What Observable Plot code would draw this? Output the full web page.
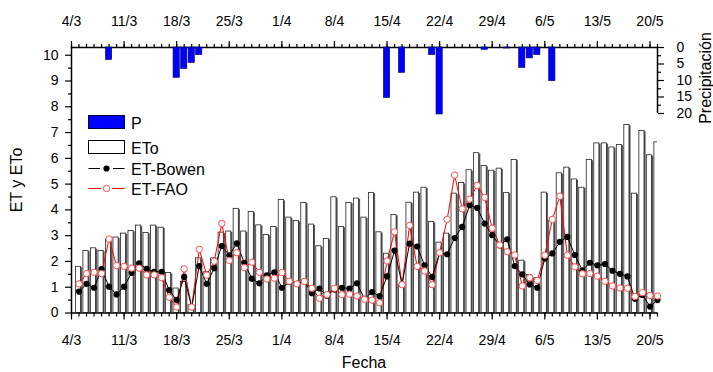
<!DOCTYPE html>
<html><head><meta charset="utf-8">
<script src="https://cdn.jsdelivr.net/npm/d3@7"></script>
<script src="https://cdn.jsdelivr.net/npm/@observablehq/plot@0.6"></script>
<style>
body{margin:0;background:#fff;}
#wrap{position:relative;width:713px;height:372px;background:#fff;font-family:"Liberation Sans",Arial,sans-serif;}
#wrap svg{position:absolute;left:0;top:0;}
</style></head><body><div id="wrap"></div>
<script>
// daily values from 5/3 to 21/5
const eto = [1.79,2.41,2.51,2.41,2.85,2.93,3.08,3.18,3.39,3.10,3.39,3.31,1.55,0.95,1.20,0.30,2.12,1.58,2.12,3.12,
3.16,4.04,3.16,3.92,3.40,3.03,3.34,4.38,3.70,3.57,4.27,3.43,2.59,2.87,4.49,3.34,4.27,4.44,3.70,4.66,
3.13,2.30,3.80,1.10,4.28,4.67,4.86,3.53,2.73,3.08,4.63,5.04,5.54,6.20,5.70,5.52,5.60,4.66,5.94,2.03,
1.47,1.35,4.67,3.58,5.42,5.64,5.18,4.86,5.94,6.58,6.58,6.42,6.52,7.29,4.63,7.06,6.12,6.62];
const bowen = [0.83,1.13,0.98,1.70,1.02,0.72,1.02,1.56,1.93,1.71,1.60,1.60,0.89,0.50,1.40,0.23,1.82,1.13,1.74,2.60,
2.24,2.70,1.95,1.33,1.15,1.46,1.58,0.98,1.20,1.13,1.23,0.77,0.95,0.67,0.91,0.98,0.95,1.15,0.55,0.81,
0.66,1.42,2.42,1.12,2.69,2.58,1.85,1.40,2.33,2.28,2.91,3.34,4.18,4.08,3.47,3.02,2.62,2.86,1.82,1.50,
1.11,0.98,2.11,2.31,2.76,2.95,2.25,1.65,1.95,1.85,1.90,1.64,1.52,1.42,0.55,0.70,0.25,0.50];
const fao = [1.13,1.53,1.58,1.53,2.87,1.84,1.81,1.74,1.74,1.48,1.48,1.37,0.61,0.23,1.71,0.23,2.47,1.47,2.01,3.47,
2.04,2.34,1.76,1.97,1.58,1.32,1.35,1.57,1.23,1.13,1.22,0.96,0.57,0.71,0.96,0.71,0.73,0.66,0.53,0.50,
0.40,2.02,3.15,1.10,3.40,1.81,1.63,1.10,2.34,3.63,5.35,4.04,4.42,4.95,4.48,3.29,2.64,2.38,2.25,1.05,
1.37,1.26,2.24,3.63,4.53,2.24,1.79,1.52,1.53,1.43,1.23,1.05,0.97,0.96,0.64,0.79,0.68,0.66];
const precipDates = ["2013-03-09","2013-03-18","2013-03-19","2013-03-20","2013-03-21","2013-04-15","2013-04-17",
"2013-04-21","2013-04-22","2013-04-28","2013-05-01","2013-05-03","2013-05-04","2013-05-05","2013-05-07"];
const precipValues = [3.8,9.2,6.5,4.7,2.3,15.3,7.7,2.3,20.3,0.7,0.3,6.2,3.3,2.3,10.2];
const tickLabels = ["4/3","11/3","18/3","25/3","1/4","8/4","15/4","22/4","29/4","6/5","13/5","20/5"];
const yTicks = [0,1,2,3,4,5,6,7,8,9,10];
const pTicks = [0,5,10,15,20];

const FONT = '"Liberation Sans", Arial, sans-serif';
const DAY = 86400e3, HOUR = 3600e3;
const start = new Date(Date.UTC(2013,2,4));
const end = new Date(Date.UTC(2013,4,21));
const firstDay = new Date(Date.UTC(2013,2,5));
const days = d3.utcDay.range(firstDay, d3.utcDay.offset(firstDay, eto.length));
const rows = days.map((d,i)=>({date:d, eto:eto[i], bowen:bowen[i], fao:fao[i]}));
const prec = precipDates.map((s,i)=>({date:new Date(s+"T00:00:00Z"), p:precipValues[i]}));
const majors = tickLabels.map((l,i)=>new Date(+start + i*7*DAY));
const labelOf = new Map(majors.map((d,i)=>[+d, tickLabels[i]]));
const minors = d3.utcDay.range(start, d3.utcDay.offset(end,1));
const yMinor = d3.range(0.5, 10.3, 1);
const pMinor = [2.5,7.5,12.5,17.5];

const off = (d,h)=>new Date(+d + h*HOUR);

const main = Plot.plot({
  width:713, height:372, marginLeft:71, marginRight:56, marginTop:47, marginBottom:59.5,
  style:{background:"white", fontFamily:FONT, fontSize:"14px", color:"#000"},
  x: {type:"utc", domain:[start,end], range:[71,657]},
  y: {domain:[0,10.3], range:[312.5,47]},
  marks:[
    Plot.rect(rows,{x1:d=>off(d.date,-10),x2:d=>off(d.date,6.5),y1:()=>0,y2:"eto",fill:"#5a5a5a",dx:1.6,dy:0.8,clip:true}),
    Plot.rect(rows,{x1:d=>off(d.date,-10),x2:d=>off(d.date,6.5),y1:()=>0,y2:"eto",fill:"white",stroke:"#222",strokeWidth:0.8,clip:true}),
    Plot.line(rows,{x:"date",y:"fao",stroke:"#ff0000",strokeWidth:1}),
    Plot.line(rows,{x:"date",y:"bowen",stroke:"#000",strokeWidth:1}),
    Plot.dot(rows,{x:"date",y:"bowen",r:3.1,fill:"#000",stroke:"none"}),
    Plot.dot(rows,{x:"date",y:"fao",r:3.2,fill:"white",stroke:"#ff5050",strokeWidth:1}),
    Plot.ruleY([0],{stroke:"#000",strokeWidth:1.5}),
    Plot.ruleY([10.3],{stroke:"#000",strokeWidth:1.5}),
    Plot.ruleX([start],{stroke:"#000",strokeWidth:1.5}),
    Plot.axisX(minors,{anchor:"bottom",tickSize:4,tickFormat:()=>"",label:null,strokeWidth:1.2}),
    Plot.axisX(majors,{anchor:"bottom",tickSize:7,tickPadding:15,tickFormat:d=>labelOf.get(+d),label:null,strokeWidth:1.2,fontSize:14}),
    Plot.axisX(minors,{anchor:"top",tickSize:4,tickFormat:()=>"",label:null,strokeWidth:1.2}),
    Plot.axisX(majors,{anchor:"top",tickSize:7,tickPadding:15,tickFormat:d=>labelOf.get(+d),label:null,strokeWidth:1.2,fontSize:14}),
    Plot.axisY(yMinor,{anchor:"left",tickSize:3,tickFormat:()=>"",label:null,strokeWidth:1.2}),
    Plot.axisY(yTicks,{anchor:"left",tickSize:6,tickPadding:7,tickFormat:d=>String(d),label:null,strokeWidth:1.2,fontSize:14})
  ]
});

const over = Plot.plot({
  width:713, height:372, marginLeft:71, marginRight:56, marginTop:47, marginBottom:259,
  style:{background:"transparent", fontFamily:FONT, fontSize:"14px", color:"#000"},
  x: {type:"utc", domain:[start,end], range:[71,657], axis:null},
  y: {domain:[0,20], range:[47,113]},
  marks:[
    Plot.rect(prec,{x1:d=>off(d.date,-10),x2:d=>off(d.date,10),y1:()=>0,y2:"p",fill:"#0000ff",stroke:"#000050",strokeWidth:0.6}),
    Plot.ruleX([end],{y1:()=>0,y2:()=>20,stroke:"#000",strokeWidth:1.5}),
    Plot.axisY(pMinor,{anchor:"right",tickSize:3,tickFormat:()=>"",label:null,strokeWidth:1.2}),
    Plot.axisY(pTicks,{anchor:"right",tickSize:6,tickPadding:13,tickFormat:d=>String(d),label:null,strokeWidth:1.2,fontSize:14})
  ]
});

const wrap = document.getElementById("wrap");
wrap.appendChild(main);
wrap.appendChild(over);

// titles and legend
const svg = d3.select(main);
const g = svg.append("g").attr("font-family",FONT).attr("fill","#000");
g.append("text").attr("transform","translate(22,180) rotate(-90)").attr("text-anchor","middle").attr("font-size",16).text("ET y ETo");
g.append("text").attr("x",364).attr("y",368).attr("text-anchor","middle").attr("font-size",16).text("Fecha");
const so = d3.select(over);
so.append("text").attr("transform","translate(711,78) rotate(-90)").attr("text-anchor","middle").attr("font-family",FONT).attr("font-size",16).text("Precipitación");

const lg = svg.append("g").attr("font-family",FONT).attr("font-size",16).attr("text-anchor","start");
lg.append("rect").attr("x",88.5).attr("y",115.5).attr("width",36).attr("height",13).attr("fill","#0000ff").attr("stroke","#000050");
lg.append("text").attr("x",131).attr("y",128.5).text("P");
lg.append("rect").attr("x",88.5).attr("y",140.5).attr("width",36).attr("height",13).attr("fill","#fff").attr("stroke","#000");
lg.append("text").attr("x",131).attr("y",153.5).text("ETo");
lg.append("line").attr("x1",88.5).attr("x2",100).attr("y1",168.5).attr("y2",168.5).attr("stroke","#000");
lg.append("line").attr("x1",113).attr("x2",124.5).attr("y1",168.5).attr("y2",168.5).attr("stroke","#000");
lg.append("circle").attr("cx",106.5).attr("cy",168.5).attr("r",3.1).attr("fill","#000");
lg.append("text").attr("x",131).attr("y",174.5).text("ET-Bowen");
lg.append("line").attr("x1",88.5).attr("x2",101).attr("y1",188.5).attr("y2",188.5).attr("stroke","#ff0000");
lg.append("line").attr("x1",112).attr("x2",124.5).attr("y1",188.5).attr("y2",188.5).attr("stroke","#ff0000");
lg.append("circle").attr("cx",106.5).attr("cy",188.5).attr("r",3.2).attr("fill","#fff").attr("stroke","#ff5050");
lg.append("text").attr("x",131).attr("y",194.5).text("ET-FAO");
</script>
</body></html>
